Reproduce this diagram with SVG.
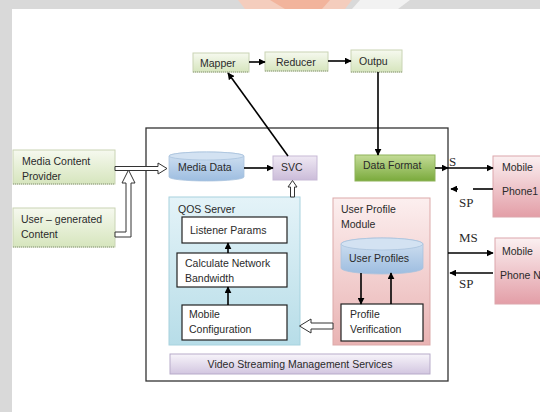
<svg xmlns="http://www.w3.org/2000/svg" width="540" height="412" viewBox="0 0 540 412">
<defs>
<linearGradient id="gGreen" x1="0" y1="0" x2="0" y2="1"><stop offset="0" stop-color="#f6f9ef"/><stop offset="1" stop-color="#d6e5bd"/></linearGradient>
<linearGradient id="gDark" x1="0" y1="0" x2="0" y2="1"><stop offset="0" stop-color="#c4dc98"/><stop offset="1" stop-color="#7aaa3c"/></linearGradient>
<linearGradient id="gBlueCyl" x1="0" y1="0" x2="0" y2="1"><stop offset="0" stop-color="#d3e2f2"/><stop offset="1" stop-color="#9dbde0"/></linearGradient>
<linearGradient id="gPurple" x1="0" y1="0" x2="0" y2="1"><stop offset="0" stop-color="#efe9f4"/><stop offset="1" stop-color="#cbbcd9"/></linearGradient>
<linearGradient id="gQos" x1="0" y1="0" x2="0" y2="1"><stop offset="0" stop-color="#e4f3f8"/><stop offset="1" stop-color="#b7dde8"/></linearGradient>
<linearGradient id="gPink" x1="0" y1="0" x2="0" y2="1"><stop offset="0" stop-color="#fcefef"/><stop offset="1" stop-color="#e9b3b3"/></linearGradient>
<linearGradient id="gMobile" x1="0" y1="0" x2="0" y2="1"><stop offset="0" stop-color="#fbf0f1"/><stop offset="1" stop-color="#e39ea7"/></linearGradient>
<linearGradient id="gBar" x1="0" y1="0" x2="0" y2="1"><stop offset="0" stop-color="#f7f4fa"/><stop offset="1" stop-color="#d2c6e0"/></linearGradient>
<marker id="ah" viewBox="0 0 10 10" refX="9" refY="5" markerWidth="7" markerHeight="7" markerUnits="userSpaceOnUse" orient="auto"><path d="M0,0 L10,5 L0,10 Z" fill="#000"/></marker>
</defs>
<style>
text{font-family:"Liberation Sans",Arial,sans-serif;font-size:10.5px;fill:#2a2a2a}
.serif{font-family:"Liberation Serif","Times New Roman",serif;font-size:13px;fill:#2a2a2a}
.g{fill:url(#gGreen);stroke:#c9d4b4;stroke-width:1}
.w{fill:#fff;stroke:#222;stroke-width:1.2}
.ln{stroke:#000;stroke-width:1.6;fill:none}
.hol{fill:#fff;stroke:#333;stroke-width:1}
.dot{stroke:#8a9a78;stroke-width:1;stroke-dasharray:1 1}
</style>
<rect width="540" height="412" fill="#fff"/>
<rect x="0" y="0" width="540" height="9" fill="#d9d9d9"/>
<rect x="0" y="0" width="12" height="412" fill="#d9d9d9"/>
<polygon points="238,0 352,0 345,9 245,9" fill="#f4cdbd"/>
<polygon points="270,0 330,0 322,9 285,9" fill="#f2b49c"/>
<polygon points="360,0 410,0 398,9 352,9" fill="#f2f2f2"/>

<g id="main"><rect x="146" y="128" width="302" height="253" fill="#fff" stroke="#333" stroke-width="1.3"/></g>

<g id="mapper"><rect class="g" x="193" y="53" width="56" height="19"/><line class="dot" x1="193" y1="72" x2="249" y2="72"/><text x="200" y="67">Mapper</text></g>
<g id="reducer"><rect class="g" x="265" y="52" width="63" height="19"/><line class="dot" x1="265" y1="71" x2="328" y2="71"/><text x="276" y="66">Reducer</text></g>
<g id="outpu"><rect class="g" x="351" y="50" width="51" height="22"/><line class="dot" x1="351" y1="72" x2="402" y2="72"/><text x="359" y="65">Outpu</text></g>

<g id="mcp"><rect class="g" x="13" y="150" width="102" height="34"/><line class="dot" x1="13" y1="184" x2="115" y2="184"/><text x="22" y="165">Media Content</text><text x="22" y="180">Provider</text></g>
<g id="ugc"><rect class="g" x="13" y="208" width="102" height="39"/><line class="dot" x1="13" y1="247" x2="115" y2="247"/><text x="21" y="223">User – generated</text><text x="21" y="238">Content</text></g>

<g id="mediadata">
<path d="M169,156 A37.5,4 0 0,1 244,156 L244,177 A37.5,4 0 0,1 169,177 Z" fill="url(#gBlueCyl)" stroke="#a9c3dd" stroke-width="0.8"/>
<ellipse cx="206.5" cy="156" rx="37.5" ry="4" fill="#d3e2f2" stroke="#a9c3dd" stroke-width="0.8"/>
<text x="178" y="171">Media Data</text>
</g>
<g id="svc"><rect x="273" y="156" width="44" height="24" fill="url(#gPurple)" stroke="#c7b9d6" stroke-width="1"/><text x="281" y="171">SVC</text></g>

<g id="qos"><rect x="169" y="197" width="131" height="148" fill="url(#gQos)" stroke="#a7d2de" stroke-width="1"/><text x="178" y="213">QOS Server</text></g>
<g id="listener"><rect class="w" x="182" y="217" width="105" height="26"/><text x="190" y="234">Listener Params</text></g>
<g id="calc"><rect class="w" x="177" y="253" width="110" height="34"/><text x="185" y="267">Calculate Network</text><text x="185" y="282">Bandwidth</text></g>
<g id="mobconf"><rect class="w" x="182" y="305" width="105" height="35"/><text x="189" y="318">Mobile</text><text x="189" y="333">Configuration</text></g>

<g id="upm"><rect x="333" y="198" width="97" height="147" fill="url(#gPink)" stroke="#dca9a9" stroke-width="1"/><text x="341" y="213">User Profile</text><text x="341" y="228">Module</text></g>
<g id="userprofiles">
<path d="M341,244 A41,6 0 0,1 423,244 L423,268 A41,6 0 0,1 341,268 Z" fill="url(#gBlueCyl)" stroke="#a9c3dd" stroke-width="0.8"/>
<ellipse cx="382" cy="244" rx="41" ry="6" fill="#d3e2f2" stroke="#a9c3dd" stroke-width="0.8"/>
<text x="349" y="262">User Profiles</text>
</g>
<g id="profver"><rect class="w" x="341" y="304" width="82" height="37"/><text x="350" y="318">Profile</text><text x="350" y="333">Verification</text></g>

<g id="dataformat"><rect x="355" y="155" width="80" height="26" fill="url(#gDark)" stroke="#8fb35a" stroke-width="1"/><text x="363" y="169">Data Format</text></g>

<g id="vsms"><rect x="170" y="354" width="260" height="20" fill="url(#gBar)" stroke="#b7abc9" stroke-width="1"/><text x="300" y="368" text-anchor="middle">Video Streaming Management Services</text></g>

<g id="phone1"><rect x="493" y="156" width="60" height="61" fill="url(#gMobile)" stroke="#dca6ac" stroke-width="1"/><text x="502" y="171">Mobile</text><text x="502" y="195">Phone1</text></g>
<g id="phoneN"><rect x="495" y="238" width="60" height="66" fill="url(#gMobile)" stroke="#dca6ac" stroke-width="1"/><text x="502" y="255">Mobile</text><text x="500" y="279" font-size="9.3">Phone N</text></g>

<g id="connectors">
<line class="ln" x1="249" y1="62" x2="265" y2="62" marker-end="url(#ah)"/>
<line class="ln" x1="328" y1="61" x2="351" y2="61" marker-end="url(#ah)"/>
<line class="ln" x1="288" y1="156" x2="228" y2="73" marker-end="url(#ah)"/>
<line class="ln" x1="378" y1="72" x2="378" y2="155" marker-end="url(#ah)"/>
<line class="ln" x1="244" y1="168" x2="273" y2="168" marker-end="url(#ah)"/>
<line class="ln" x1="228" y1="253" x2="228" y2="243" marker-end="url(#ah)"/>
<line class="ln" x1="228" y1="305" x2="228" y2="287" marker-end="url(#ah)"/>
<line class="ln" x1="361" y1="273" x2="361" y2="304" marker-end="url(#ah)"/>
<line class="ln" x1="391" y1="304" x2="391" y2="273" marker-end="url(#ah)"/>
<line class="ln" x1="435" y1="168" x2="448" y2="168" marker-end="url(#ah)"/>
<line class="ln" x1="448" y1="168" x2="493" y2="168" marker-end="url(#ah)"/>
<line class="ln" x1="493" y1="189" x2="473" y2="189"/>
<line class="ln" x1="458" y1="189" x2="451" y2="189" marker-end="url(#ah)"/>
<line class="ln" x1="448" y1="253" x2="493" y2="253" marker-end="url(#ah)"/>
<line class="ln" x1="493" y1="273" x2="450" y2="273" marker-end="url(#ah)"/>
<polygon class="hol" points="115,166.5 158,166.5 158,163 167,168.5 158,174 158,170.5 115,170.5"/>
<polygon class="hol" points="115,232 126,232 126,183 122,183 128.5,170 135,183 131,183 131,237 115,237"/>
<polygon class="hol" points="290.5,197 290.5,187 288,187 292.5,180.5 297,187 294.5,187 294.5,197"/>
<polygon class="hol" points="333,323 311,323 311,319 299.5,326 311,333 311,329 333,329"/>
</g>
<text class="serif" x="449" y="166" font-size="11">S</text>
<text class="serif" x="459" y="207">SP</text>
<text class="serif" x="459" y="242" font-size="14">MS</text>
<text class="serif" x="459" y="288">SP</text>
</svg>
